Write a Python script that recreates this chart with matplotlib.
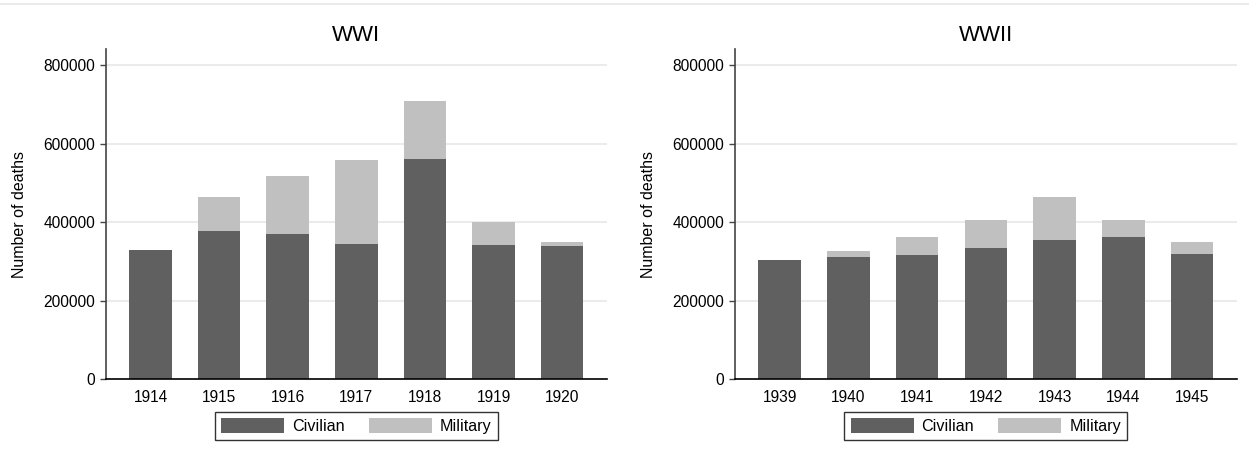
import numpy as np
import matplotlib
matplotlib.use('Agg')
from matplotlib import pyplot as plt
from matplotlib.lines import Line2D

plt.rcParams['font.family'] = ['Liberation Sans', 'DejaVu Sans']

# data
ww1_years = ['1914', '1915', '1916', '1917', '1918', '1919', '1920']
ww1_civilian = [328000, 378000, 369000, 345000, 560000, 341000, 339000]
ww1_military = [0, 86000, 149000, 212000, 149000, 59000, 9000]

ww2_years = ['1939', '1940', '1941', '1942', '1943', '1944', '1945']
ww2_civilian = [304000, 311000, 317000, 335000, 353000, 362000, 319000]
ww2_military = [0, 14000, 44000, 69000, 111000, 44000, 30000]

yticks = [0, 200000, 400000, 600000, 800000]

CIV = '#606060'
MIL = '#c0c0c0'

W, H = 1249, 458
fig = plt.figure(figsize=(W / 100, H / 100), dpi=100)

# thin light line along the very top of the image
fig.add_artist(Line2D([0, 1], [1 - 4 / H, 1 - 4 / H], transform=fig.transFigure,
                      color='#e6e6e6', lw=1.2))


def panel(left_px, right_px, title, years, civ, mil):
    ax = fig.add_axes([left_px / W, 1 - 379 / H, (right_px - left_px) / W, (379 - 49) / H])
    x = np.arange(len(years))
    civ = np.array(civ)
    mil = np.array(mil)
    ax.bar(x, civ, width=0.62, color=CIV, zorder=2, label='Civilian')
    ax.bar(x, mil, bottom=civ, width=0.62, color=MIL, zorder=2, label='Military')
    ax.set_xlim(-0.65, len(years) - 1 + 0.65)
    ax.set_ylim(0, 841000)
    ax.set_xticks(x)
    ax.set_xticklabels(years)
    ax.set_yticks(yticks)
    ax.set_yticklabels([str(v) for v in yticks])
    for v in yticks[1:]:
        ax.axhline(v, color='#ebebeb', lw=1.5, zorder=1)
    ax.tick_params(axis='x', length=0, pad=8, labelsize=11.2)
    ax.tick_params(axis='y', length=4.5, width=1, pad=3.5, labelsize=11.2, color='#444444')
    ax.spines['top'].set_visible(False)
    ax.spines['right'].set_visible(False)
    ax.spines['left'].set_color('#444444')
    ax.spines['bottom'].set_color('black')
    ax.spines['left'].set_linewidth(1.2)
    ax.spines['bottom'].set_linewidth(1.2)
    ax.set_ylabel('Number of deaths', fontsize=11.5)
    ax.yaxis.set_label_coords(-0.158, 0.5)
    ax.set_title(title, fontsize=16, pad=5.5)
    cx = (left_px + right_px) / 2 / W
    leg = fig.legend(handles=ax.containers, labels=['Civilian', 'Military'],
                     loc='center', bbox_to_anchor=(cx, 1 - 426 / H), ncol=2,
                     fontsize=11.6, frameon=True, fancybox=False, edgecolor='black',
                     handlelength=3.9, handleheight=1.0, handletextpad=0.5,
                     columnspacing=1.5, borderpad=0.4)
    leg.get_frame().set_linewidth(1.0)
    return ax


panel(106, 606.7, 'WWI', ww1_years, ww1_civilian, ww1_military)
panel(735, 1236.7, 'WWII', ww2_years, ww2_civilian, ww2_military)

plt.savefig('out.png', dpi=100)
